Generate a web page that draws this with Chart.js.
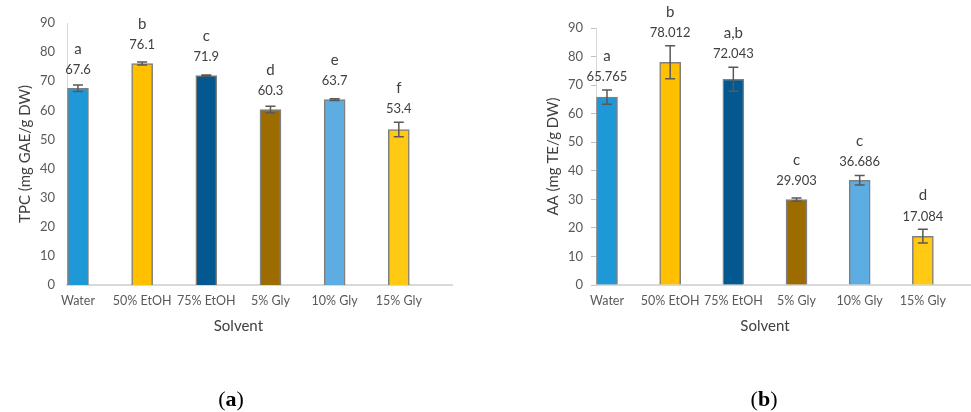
<!DOCTYPE html>
<html>
<head>
<meta charset="utf-8">
<script src="https://cdn.jsdelivr.net/npm/chart.js@4.4.1/dist/chart.umd.min.js"></script>
<style>
  html, body { margin: 0; padding: 0; background: #fff; width: 971px; height: 412px; overflow: hidden; }
  canvas { position: absolute; top: 0; }
  .cap { position: absolute; top: 386px; transform: translateX(-50%); font-family: "Liberation Serif", "DejaVu Serif", serif; font-size: 22px; color: #000; }
</style>
</head>
<body>
<canvas id="tpcChart" width="476" height="412" style="left:0"></canvas>
<canvas id="aaChart" width="451" height="412" style="left:520px"></canvas>
<div class="cap" style="left:231px">(<b>a</b>)</div>
<div class="cap" style="left:764px">(<b>b</b>)</div>
<script>
// data
const solvents = ['Water', '50% EtOH', '75% EtOH', '5% Gly', '10% Gly', '15% Gly'];
const tpcValues = [67.6, 76.1, 71.9, 60.3, 63.7, 53.4];
const tpcErrors = [1.1, 0.5, 0.2, 1.1, 0.3, 2.5];
const tpcLetters = ['a', 'b', 'c', 'd', 'e', 'f'];
const aaValues = [65.765, 78.012, 72.043, 29.903, 36.686, 17.084];
const aaErrors = [2.5, 5.8, 4.2, 0.6, 1.7, 2.4];
const aaLetters = ['a', 'b', 'a,b', 'c', 'c', 'd'];
const yTicks = [0, 10, 20, 30, 40, 50, 60, 70, 80, 90];
const barColors = ['#1f98d8', '#ffc000', '#03598f', '#9c6c00', '#5dade2', '#ffc914'];

const FONT = 'Lato, "Open Sans", sans-serif';

// error bars, value labels, letters, and the x-axis caption
const barAnnotations = {
  id: 'barAnnotations',
  afterDatasetsDraw(chart, args, opts) {
    const { ctx, scales: { x, y } } = chart;
    const meta = chart.getDatasetMeta(0);
    ctx.save();
    meta.data.forEach((bar, i) => {
      const v = opts.values[i], e = opts.errors[i];
      const top = y.getPixelForValue(v + e);
      const bot = y.getPixelForValue(v - e);
      ctx.strokeStyle = '#595959';
      ctx.lineWidth = 1.5;
      ctx.beginPath();
      ctx.moveTo(bar.x, top); ctx.lineTo(bar.x, bot);
      ctx.moveTo(bar.x - 5, top); ctx.lineTo(bar.x + 5, top);
      ctx.moveTo(bar.x - 5, bot); ctx.lineTo(bar.x + 5, bot);
      ctx.stroke();

      const labelY = Math.min(bar.y - 18.5, top - 13);
      ctx.fillStyle = '#404040';
      ctx.textAlign = 'center';
      ctx.textBaseline = 'middle';
      ctx.font = '13px ' + FONT;
      ctx.fillText(v.toFixed(opts.decimals), bar.x, labelY);
      ctx.font = '15px ' + FONT;
      ctx.fillText(opts.letters[i], bar.x, labelY - 21);
    });
    // "Solvent" centred under the bars
    ctx.fillStyle = '#404040';
    ctx.font = '15px ' + FONT;
    ctx.textAlign = 'center';
    ctx.textBaseline = 'middle';
    ctx.fillText(opts.xTitle, x.getPixelForValue((solvents.length - 1) / 2), y.bottom + 41);
    ctx.restore();
  }
};

function makeChart(id, values, errors, letters, decimals, yTitle, cfg) {
  return new Chart(document.getElementById(id), {
    type: 'bar',
    data: {
      datasets: [{
        data: values.map((v, i) => ({ x: i, y: v })),
        backgroundColor: barColors,
        borderColor: '#7f7f7f',
        borderWidth: 1.5,
        barThickness: 21
      }]
    },
    options: {
      responsive: false,
      animation: false,
      layout: { padding: { top: cfg.top, bottom: 75, left: 0, right: cfg.right } },
      plugins: {
        legend: { display: false },
        tooltip: { enabled: false },
        barAnnotations: { values, errors, letters, decimals, xTitle: 'Solvent' }
      },
      scales: {
        x: {
          type: 'linear',
          offset: false,
          min: cfg.xMin,
          max: cfg.xMax,
          afterBuildTicks: s => { s.ticks = solvents.map((c, i) => ({ value: i })); },
          afterFit: s => { s.height = 52; s.paddingLeft = 0; s.paddingRight = 0; },
          ticks: {
            callback: v => solvents[v],
            color: '#595959',
            font: { family: FONT, size: 12.5 },
            padding: 8,
            autoSkip: false,
            maxRotation: 0
          },
          grid: { display: false, drawTicks: false },
          border: { display: true, color: '#d9d9d9', width: 2 }
        },
        y: {
          min: 0,
          max: 90,
          afterBuildTicks: s => { s.ticks = yTicks.map(v => ({ value: v })); },
          afterFit: s => { s.width = cfg.yWidth; },
          ticks: {
            color: '#595959',
            font: { family: FONT, size: 13 },
            padding: cfg.tickPad
          },
          grid: cfg.yGrid,
          border: { display: true, color: '#d9d9d9', width: 1 },
          title: {
            display: true,
            text: yTitle,
            color: '#404040',
            font: { family: FONT, size: 15 },
            padding: { top: cfg.titlePad, bottom: 4 }
          }
        }
      }
    },
    plugins: [barAnnotations]
  });
}

makeChart('tpcChart', tpcValues, tpcErrors, tpcLetters, 1, 'TPC (mg GAE/g DW)', {
  top: 23, right: 24, xMin: -0.171, xMax: 5.829, yWidth: 67, tickPad: 12, titlePad: 16,
  yGrid: { display: false, drawTicks: false }
});

makeChart('aaChart', aaValues, aaErrors, aaLetters, 3, 'AA (mg TE/g DW)', {
  top: 28, right: 0, xMin: -0.174, xMax: 5.762, yWidth: 76, tickPad: 8, titlePad: 24,
  yGrid: { display: true, drawOnChartArea: false, drawTicks: true, tickLength: 5, color: '#bfbfbf' }
});
</script>
</body>
</html>
